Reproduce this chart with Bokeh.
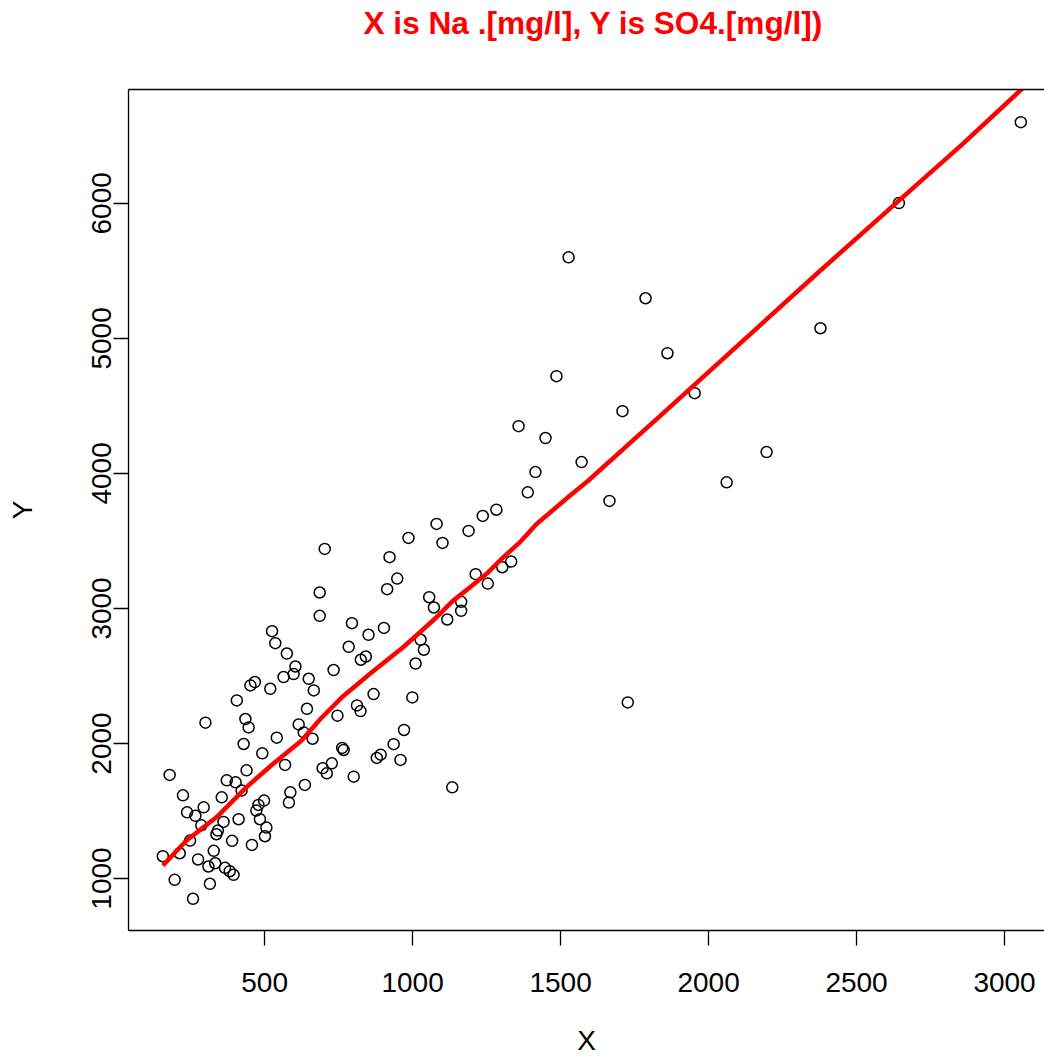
from bokeh.plotting import figure
from bokeh.models import Range1d, FixedTicker, LinearAxis, Title
from bokeh.embed import file_html
from bokeh.resources import INLINE

title_text = "X is Na .[mg/l], Y is SO4.[mg/l])"
x_label = "X"
y_label = "Y"
x_ticks = [500, 1000, 1500, 2000, 2500, 3000]
y_ticks = [1000, 2000, 3000, 4000, 5000, 6000]

na = [429, 492, 541, 662, 179, 439, 569, 696, 372, 402, 422, 224, 355, 636, 587,
      582, 498, 479, 472, 294, 238, 266, 286, 361, 412, 484, 506, 501, 342, 337,
      390, 457, 248, 213, 156, 328, 275, 310, 333, 366, 382, 395, 196, 315, 258,
      686, 686, 525, 536, 575, 604, 598, 564, 649, 467, 452, 519, 666, 406, 643,
      300, 435, 446, 615, 632, 922, 948, 914, 1213, 1254, 1056, 1072, 1164, 1164, 1117,
      795, 903, 851, 784, 842, 825, 1027, 1038, 1010, 733, 868, 999, 812, 824, 746,
      971, 936, 762, 767, 892, 879, 959, 727, 710, 801, 1134, 1389, 1283, 1237, 1665,
      1333, 1303, 1727, 2196, 2061, 2378, 2643, 3055, 1527, 1787, 1861, 1953, 1486, 1709,
      1358, 1449, 1571, 1415, 1189, 1081, 1101, 986, 703]
so4 = [1996, 1927, 2043, 2035, 1767, 1801, 1841, 1817, 1727, 1712, 1651, 1616, 1601, 1693, 1638,
       1562, 1577, 1545, 1503, 1527, 1490, 1464, 1394, 1419, 1439, 1439, 1377, 1313, 1355, 1328,
       1279, 1249, 1281, 1187, 1165, 1205, 1141, 1089, 1113, 1079, 1054, 1027, 990, 961, 850,
       3118, 2945, 2832, 2743, 2666, 2570, 2514, 2492, 2479, 2455, 2430, 2405, 2393, 2319, 2257,
       2154, 2181, 2119, 2141, 2082, 3380, 3221, 3143, 3254, 3184, 3083, 3007, 3049, 2982, 2918,
       2891, 2856, 2805, 2716, 2644, 2620, 2768, 2694, 2592, 2544, 2366, 2341, 2282, 2240, 2206,
       2100, 1995, 1967, 1952, 1917, 1893, 1878, 1853, 1779, 1754, 1675, 3860, 3731, 3685, 3796,
       3347, 3305, 2304, 4158, 3934, 5075, 6002, 6601, 5600, 5297, 4890, 4594, 4720, 4461,
       4350, 4262, 4084, 4010, 3574, 3626, 3485, 3522, 3441]

fit_x = [156, 236, 337, 438, 528, 624, 690, 760, 855, 967, 1024, 1080, 1136, 1192, 1254,
         1305, 1361, 1418, 1530, 1592, 1767, 1817, 2375, 2643, 2859, 3060]
fit_y = [1096, 1281, 1453, 1675, 1848, 2021, 2185, 2340, 2514, 2711, 2822, 2933, 3056, 3154, 3265,
         3376, 3487, 3623, 3833, 3944, 4289, 4387, 5497, 6020, 6440, 6850]

FONT = "Liberation Sans"

p = figure(width=1044, height=1059, output_backend="svg", toolbar_location=None,
           x_range=Range1d(40, 3135), y_range=Range1d(615, 6843),
           min_border_left=128, min_border_right=0, min_border_top=88, min_border_bottom=129,
           x_axis_label=x_label, y_axis_label=y_label)
p.outline_line_color = None
p.xgrid.visible = False
p.ygrid.visible = False
p.background_fill_color = "white"
p.border_fill_color = "white"

p.title.text = title_text
p.title.text_color = "#ff0000"
p.title.text_font = FONT
p.title.text_font_size = "31.6px"
p.title.text_font_style = "bold"
p.title.align = "left"
p.title.offset = 235
p.title.standoff = 4

for ax in (p.xaxis[0], p.yaxis[0]):
    ax.axis_line_color = "black"
    ax.axis_line_width = 1.3
    ax.major_tick_line_color = "black"
    ax.major_tick_line_width = 1.3
    ax.major_tick_out = 15
    ax.major_tick_in = 0
    ax.minor_tick_line_color = None
    ax.major_label_text_font = FONT
    ax.major_label_text_font_size = "28px"
    ax.major_label_text_color = "black"
    ax.major_label_text_line_height = 0.9
    ax.axis_label_text_font = FONT
    ax.axis_label_text_font_size = "28px"
    ax.axis_label_text_font_style = "normal"
    ax.axis_label_text_color = "black"
    ax.axis_label_text_line_height = 0.9

p.xaxis[0].ticker = FixedTicker(ticks=x_ticks)
p.yaxis[0].ticker = FixedTicker(ticks=y_ticks)
p.xaxis[0].major_label_standoff = 27
p.xaxis[0].axis_label_standoff = 30
p.yaxis[0].major_label_orientation = "vertical"
p.yaxis[0].major_label_standoff = 2
p.yaxis[0].axis_label_standoff = 52

top = LinearAxis(ticker=FixedTicker(ticks=[]), axis_line_color="black", axis_line_width=1.3,
                 major_tick_out=0, major_tick_in=0, minor_tick_line_color=None,
                 major_label_standoff=0, major_label_text_font_size="0px")
p.add_layout(top, "above")
spacer = Title(text=" ", text_font_size="1px", standoff=44)
p.add_layout(spacer, "above")

p.scatter(na, so4, marker="circle", size=11, fill_color=None, line_color="black", line_width=1.5)
p.line(fit_x, fit_y, line_color="#ff0000", line_width=4.5)

open("out.html", "w").write(file_html(p, INLINE))
